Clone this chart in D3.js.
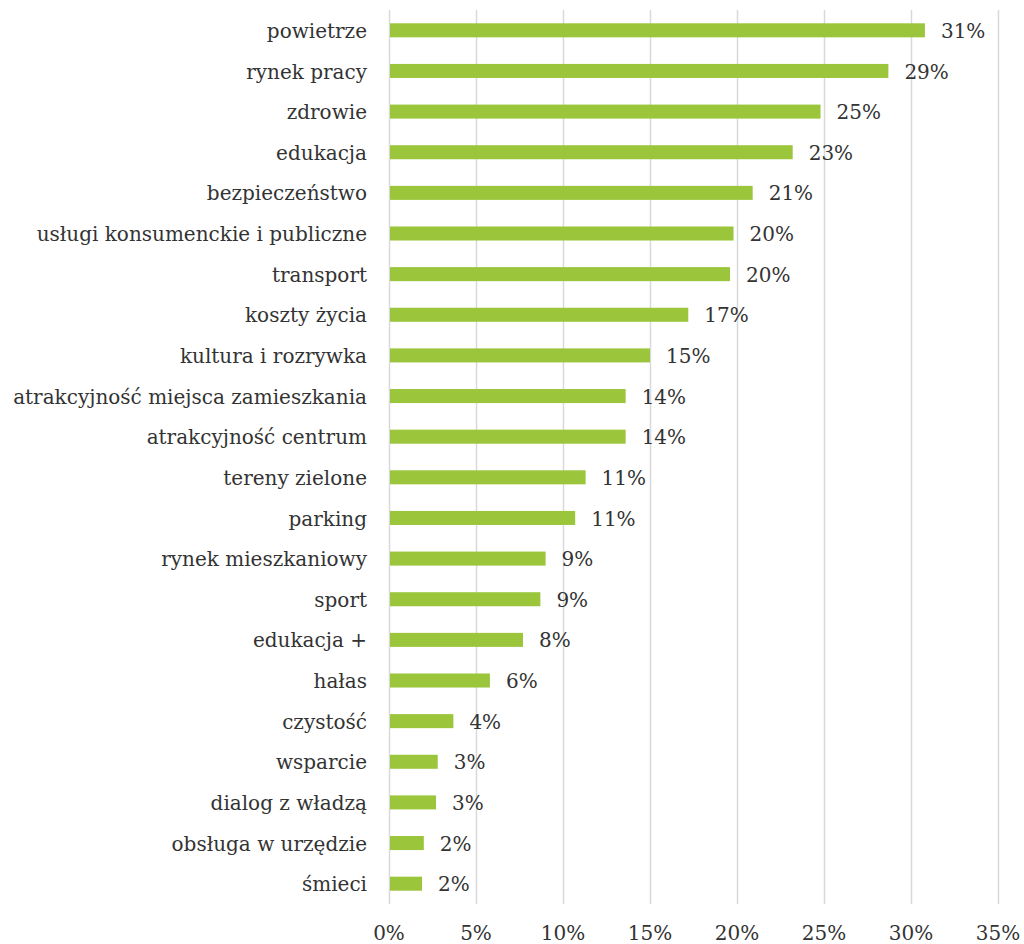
<!DOCTYPE html>
<html><head><meta charset="utf-8">
<script src="https://cdn.jsdelivr.net/npm/d3@7"></script>
<style>body{margin:0;background:#fff;} text{font-family:"DejaVu Serif",serif;fill:#333;}</style>
</head><body><svg id="c" width="1024" height="944"></svg>
<script>
const categories = ["powietrze","rynek pracy","zdrowie","edukacja","bezpieczeństwo","usługi konsumenckie i publiczne","transport","koszty życia","kultura i rozrywka","atrakcyjność miejsca zamieszkania","atrakcyjność centrum","tereny zielone","parking","rynek mieszkaniowy","sport","edukacja +","hałas","czystość","wsparcie","dialog z władzą","obsługa w urzędzie","śmieci"];
const values = [30.8,28.7,24.8,23.2,20.9,19.8,19.6,17.2,15.0,13.6,13.6,11.3,10.7,9.0,8.7,7.7,5.8,3.7,2.8,2.7,2.0,1.9];
const labels = ["31%","29%","25%","23%","21%","20%","20%","17%","15%","14%","14%","11%","11%","9%","9%","8%","6%","4%","3%","3%","2%","2%"];
const ticks = [0,5,10,15,20,25,30,35];
const tickLabels = ["0%","5%","10%","15%","20%","25%","30%","35%"];

const svg = d3.select("#c");
const pL=389, pR=998, pT=10, pB=904;
const x = d3.scaleLinear().domain([0,35]).range([pL,pR]);
const y = d3.scaleBand().domain(categories).range([pT,pB]).paddingInner(0.655).paddingOuter(0.3275);
const fs = 20;

svg.append("g").selectAll("line").data(ticks).join("line")
  .attr("x1",d=>x(d)+0.5).attr("x2",d=>x(d)+0.5).attr("y1",pT).attr("y2",pB)
  .attr("stroke","#d9d9d9").attr("stroke-width",1.5);

svg.append("g").selectAll("rect").data(values).join("rect")
  .attr("x",x(0)+1).attr("y",(d,i)=>y(categories[i]))
  .attr("width",d=>x(d)-x(0)-1).attr("height",y.bandwidth())
  .attr("fill","#9BC53A");

svg.append("g").selectAll("text").data(labels).join("text")
  .attr("x",(d,i)=>x(values[i])+16).attr("y",(d,i)=>y(categories[i])+y.bandwidth()/2)
  .attr("dy","0.38em").attr("font-size",fs).text(d=>d);

svg.append("g").selectAll("text").data(categories).join("text")
  .attr("x",367).attr("y",d=>y(d)+y.bandwidth()/2).attr("dy","0.38em")
  .attr("text-anchor","end").attr("font-size",fs).text(d=>d);

svg.append("g").selectAll("text").data(ticks).join("text")
  .attr("x",d=>x(d)).attr("y",933).attr("dy","0.36em")
  .attr("text-anchor","middle").attr("font-size",fs).text((d,i)=>tickLabels[i]);
</script></body></html>
